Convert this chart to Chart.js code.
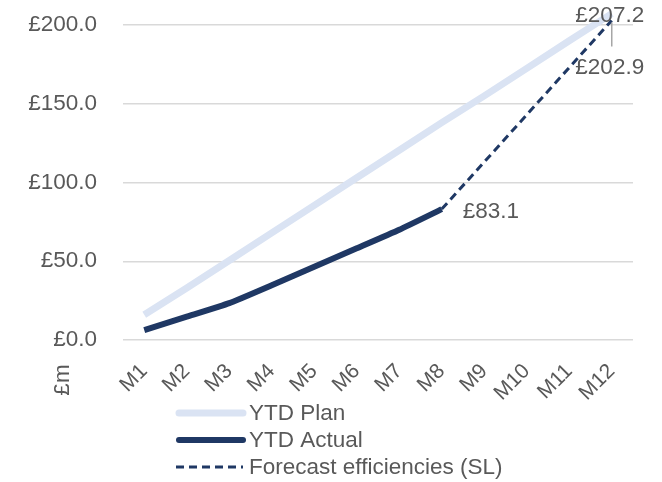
<!DOCTYPE html>
<html>
<head>
<meta charset="utf-8">
<script src="https://cdn.jsdelivr.net/npm/chart.js@4/dist/chart.umd.min.js"></script>
<style>
  html, body { margin: 0; padding: 0; background: #ffffff; }
  #wrap { width: 662px; height: 482px; }
</style>
</head>
<body>
<div id="wrap"><canvas id="chart" width="662" height="482"></canvas></div>
<script>
// Months of the financial year
const months = ['M1', 'M2', 'M3', 'M4', 'M5', 'M6', 'M7', 'M8', 'M9', 'M10', 'M11', 'M12'];

// Year-to-date savings, £m
const ytdPlan = [16.0, 33.0, 50.5, 68.0, 85.5, 103.0, 120.5, 138.0, 155.0, 172.5, 190.0, 207.2];
const ytdActual = [6.3, 14.8, 23.4, 34.8, 46.5, 58.2, 70.0, 83.1, null, null, null, null];
const forecastSL = [null, null, null, null, null, null, null, 83.1, 113.0, 143.0, 173.0, 202.9];

// Value axis ticks
const yTicks = [0, 50, 100, 150, 200];

const seriesNames = ['YTD Plan', 'YTD Actual', 'Forecast efficiencies (SL)'];

const TEXT = '#595959';
const FONT = "'Liberation Sans', Arial, sans-serif";
const FSIZE = 22.5;
const PLAN_COL = '#DAE3F3';
const NAVY = '#1F3864';

const fmt = v => '£' + v.toFixed(1);

// Value labels beside selected points, plus a leader line for the forecast end point
const valueLabels = {
  id: 'valueLabels',
  afterDatasetsDraw(chart) {
    const { ctx } = chart;
    ctx.save();
    ctx.font = FSIZE + 'px ' + FONT;
    ctx.fillStyle = TEXT;
    ctx.textBaseline = 'middle';

    const planEnd = chart.getDatasetMeta(0).data[11];
    const actualEnd = chart.getDatasetMeta(1).data[7];
    const fcEnd = chart.getDatasetMeta(2).data[11];

    // leader line from forecast end point down to its label
    ctx.strokeStyle = '#A6A6A6';
    ctx.lineWidth = 1.5;
    ctx.beginPath();
    ctx.moveTo(fcEnd.x, fcEnd.y + 2);
    ctx.lineTo(fcEnd.x, fcEnd.y + 26);
    ctx.stroke();

    ctx.textAlign = 'center';
    ctx.fillText(fmt(ytdPlan[11]), planEnd.x - 2, planEnd.y + 2);
    ctx.fillText(fmt(forecastSL[11]), fcEnd.x - 2, fcEnd.y + 47);

    ctx.textAlign = 'left';
    ctx.fillText(fmt(ytdActual[7]), actualEnd.x + 21, actualEnd.y + 3);
    ctx.restore();
  }
};

// Stacked legend under the category axis and the unit caption
const sideText = {
  id: 'sideText',
  afterDraw(chart) {
    const { ctx } = chart;
    ctx.save();
    ctx.font = FSIZE + 'px ' + FONT;
    ctx.fillStyle = TEXT;
    ctx.textBaseline = 'middle';

    const rows = [413, 440, 467];
    chart.data.datasets.forEach((ds, i) => {
      const y = rows[i];
      ctx.save();
      ctx.strokeStyle = ds.borderColor;
      ctx.lineWidth = ds.borderWidth;
      ctx.lineCap = ds.borderDash ? 'butt' : 'round';
      ctx.setLineDash(ds.borderDash || []);
      ctx.beginPath();
      ctx.moveTo(ds.borderDash ? 176 : 179, y);
      ctx.lineTo(243, y);
      ctx.stroke();
      ctx.restore();
      ctx.textAlign = 'left';
      ctx.fillText(ds.label, 249, y + 1);
    });

    // unit caption, rotated
    ctx.translate(63, 380);
    ctx.rotate(-Math.PI / 2);
    ctx.textAlign = 'center';
    ctx.fillText('£m', 0, 0);
    ctx.restore();
  }
};

new Chart(document.getElementById('chart'), {
  type: 'line',
  data: {
    labels: months,
    datasets: [
      {
        label: seriesNames[0],
        data: ytdPlan,
        borderColor: PLAN_COL,
        backgroundColor: PLAN_COL,
        borderWidth: 7,
        pointRadius: 0,
        tension: 0,
        clip: false,
        order: 3
      },
      {
        label: seriesNames[1],
        data: ytdActual,
        borderColor: NAVY,
        backgroundColor: NAVY,
        borderWidth: 6,
        pointRadius: 0,
        tension: 0.15,
        clip: false,
        order: 1
      },
      {
        label: seriesNames[2],
        data: forecastSL,
        borderColor: NAVY,
        backgroundColor: NAVY,
        borderWidth: 3,
        borderDash: [8, 5],
        pointRadius: 0,
        tension: 0,
        clip: false,
        order: 2
      }
    ]
  },
  options: {
    responsive: false,
    animation: false,
    devicePixelRatio: 1,
    layout: { padding: { top: 25, right: 29, bottom: 0, left: 0 } },
    plugins: {
      legend: { display: false },
      tooltip: { enabled: false }
    },
    scales: {
      x: {
        offset: true,
        grid: { display: false },
        border: { display: false },
        ticks: {
          color: TEXT,
          font: { family: FONT, size: 21 },
          minRotation: 45,
          maxRotation: 45,
          padding: 11,
          autoSkip: false
        },
        afterFit(scale) {
          scale.height = 142;
          scale.paddingLeft = 0;
          scale.paddingRight = 0;
        }
      },
      y: {
        min: 0,
        max: 200,
        afterBuildTicks(scale) { scale.ticks = yTicks.map(v => ({ value: v })); },
        grid: { color: '#D9D9D9', lineWidth: 1.5, drawTicks: false },
        border: { display: false },
        ticks: {
          color: TEXT,
          font: { family: FONT, size: FSIZE },
          padding: 26,
          callback: v => fmt(v)
        },
        afterFit(scale) {
          scale.width = 123;
          scale.paddingTop = 0;
          scale.paddingBottom = 0;
        }
      }
    }
  },
  plugins: [valueLabels, sideText]
});
</script>
</body>
</html>
